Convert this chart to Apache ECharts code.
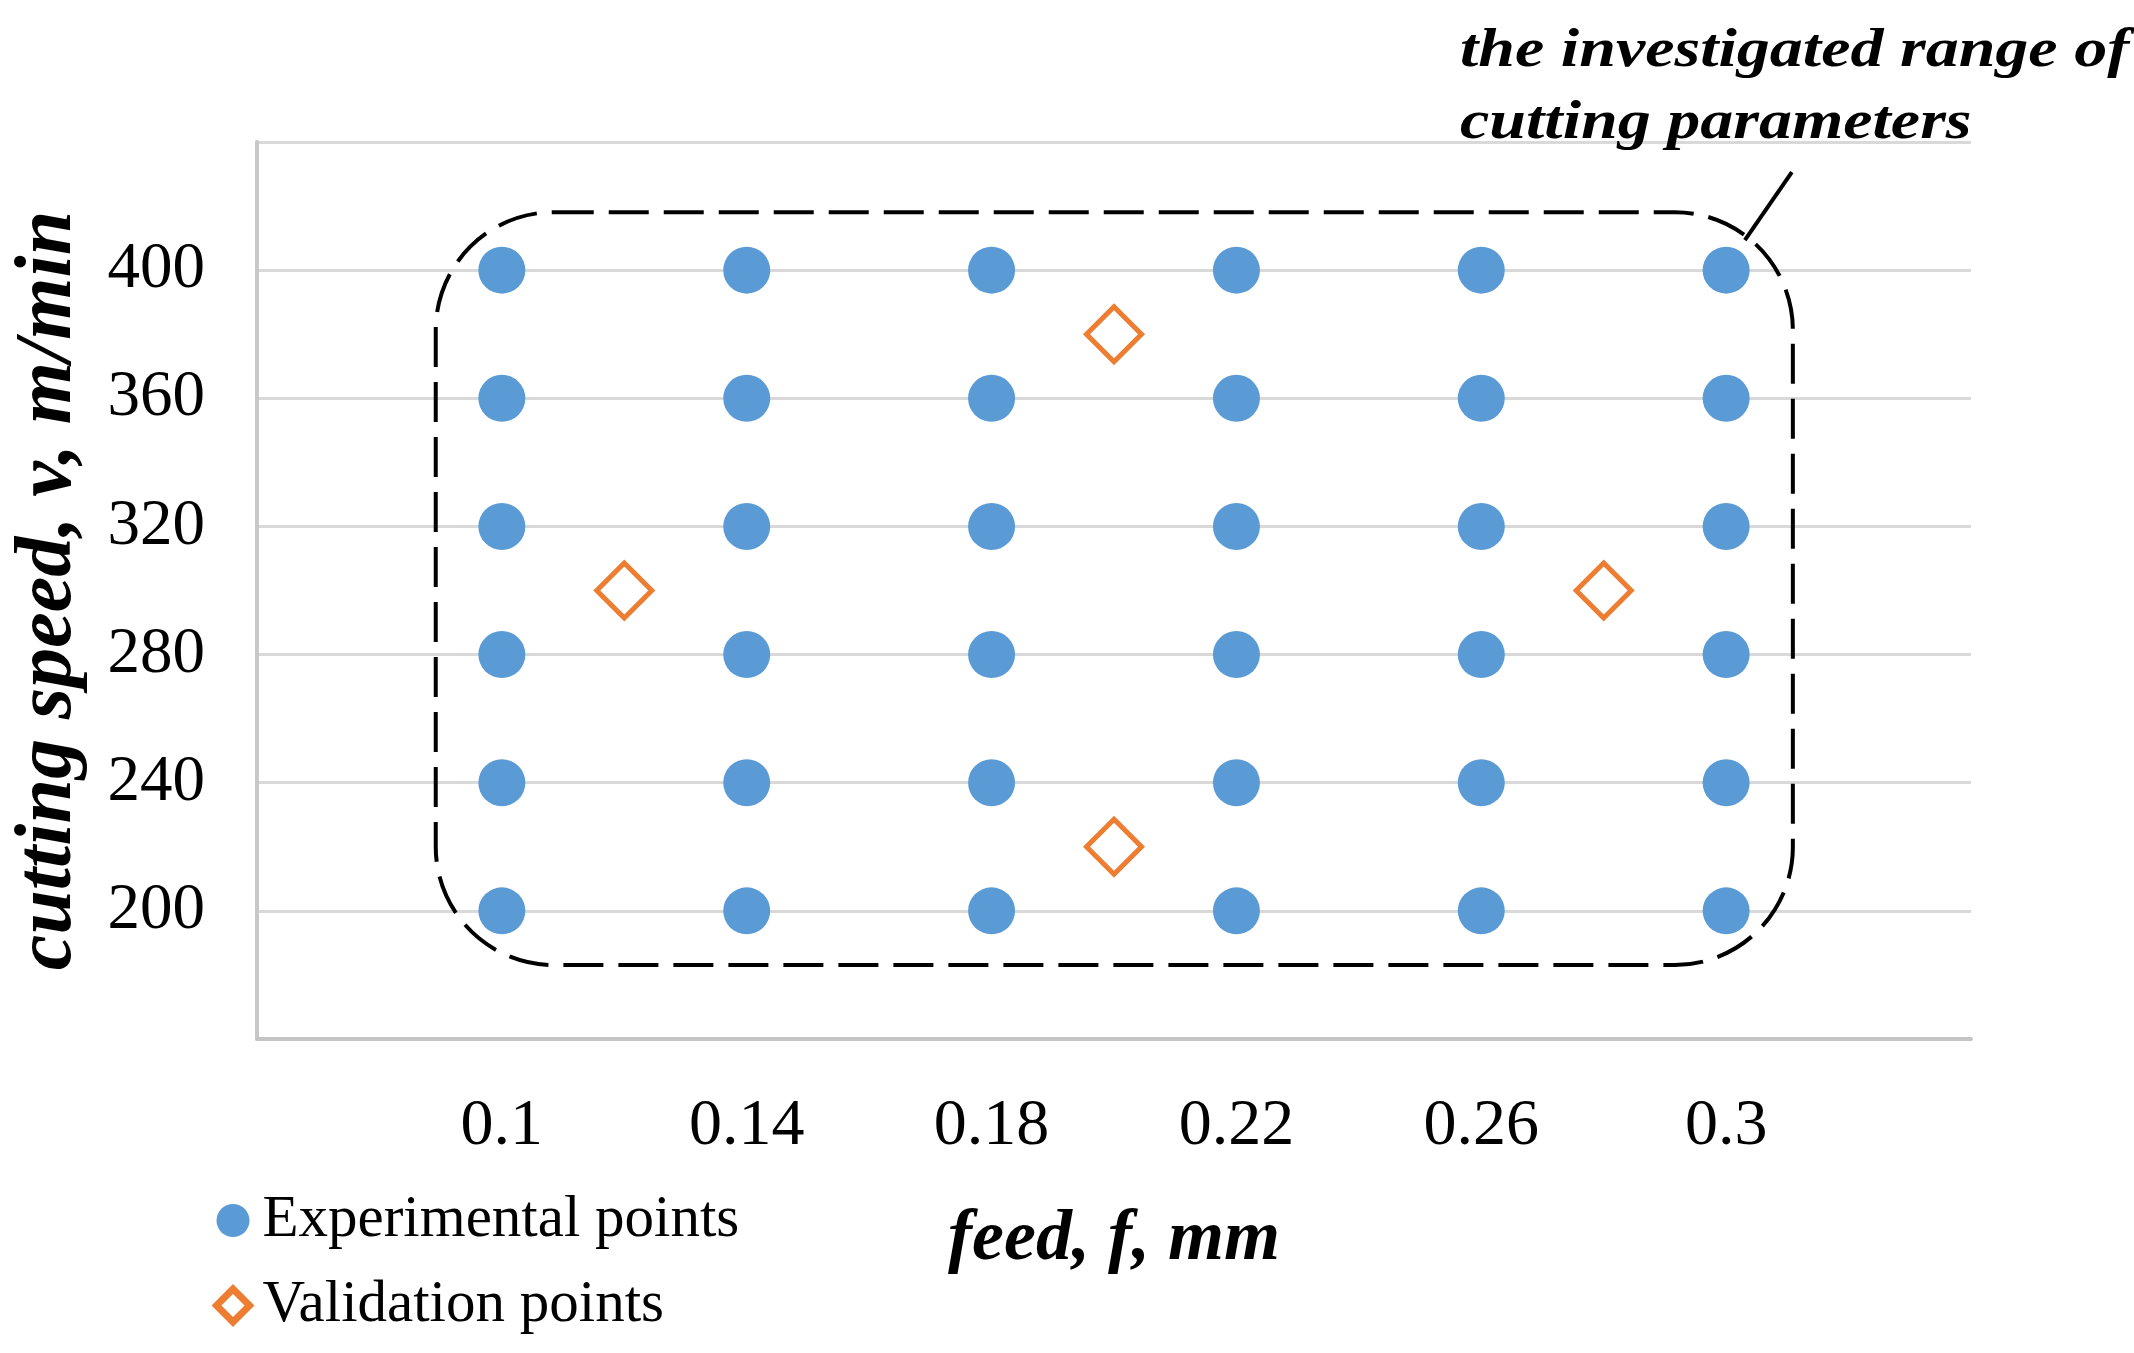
<!DOCTYPE html>
<html><head><meta charset="utf-8">
<script src="https://cdn.jsdelivr.net/npm/echarts@6/dist/echarts.min.js"></script>
<style>html,body{margin:0;padding:0;background:#fff}#c{width:2134px;height:1353px}</style>
</head><body><div id="c"></div>
<script>
// ---- data ----
const feedLevels = [0.1, 0.14, 0.18, 0.22, 0.26, 0.3];
const speedLevels = [200, 240, 280, 320, 360, 400];
const validationFeed = [0.12, 0.2, 0.2, 0.28];
const validationSpeed = [300, 380, 220, 300];
const feedTickLabels = ['0.1', '0.14', '0.18', '0.22', '0.26', '0.3'];
const speedTickLabels = ['200', '240', '280', '320', '360', '400'];
const seriesNames = ['Experimental points', 'Validation points'];
const axisNames = ['feed, f, mm', 'cutting speed, v, m/min'];
const annotationLines = ['the investigated range of', 'cutting parameters'];
// investigated range box (data units)
const rangeFeed = [0.0892, 0.3109];
const rangeSpeed = [183.1, 418.1];

const experimental = [];
for (const v of speedLevels) for (const f of feedLevels) experimental.push([f, v]);
const validation = validationFeed.map((f, i) => [f, validationSpeed[i]]);

const FONT = '"Liberation Serif", "Times New Roman", serif';
const BLUE = '#5B9BD5', ORANGE = '#ED7D31';

const chart = echarts.init(document.getElementById('c'));
chart.setOption({
  animation: false,
  backgroundColor: '#fff',
  grid: { left: 257, right: 163, top: 142, bottom: 314, containLabel: false },
  legend: {
    orient: 'vertical', left: 208, top: 1186,
    itemWidth: 33, itemHeight: 33, itemGap: 26,
    textStyle: { fontFamily: FONT, fontSize: 59, color: '#000', lineHeight: 58, padding: [0, 0, 0, 8] },
    data: [
      { name: seriesNames[0], icon: 'circle' },
      { name: seriesNames[1], icon: 'diamond', itemStyle: { color: '#fff', borderColor: ORANGE, borderWidth: 7 } }
    ]
  },
  xAxis: {
    type: 'value', min: 0.06, max: 0.34, interval: 0.04,
    name: axisNames[0], nameLocation: 'middle', nameGap: 165,
    nameTextStyle: { fontFamily: FONT, fontStyle: 'italic', fontWeight: 'bold', fontSize: 72, color: '#000' },
    axisLine: { show: true, lineStyle: { color: '#c4c4c4', width: 4 } },
    axisTick: { show: false },
    splitLine: { show: false },
    axisLabel: {
      margin: 55, fontFamily: FONT, fontSize: 66, color: '#000',
      formatter: v => { const s = String(parseFloat(v.toFixed(2))); return feedTickLabels.includes(s) ? s : ''; }
    }
  },
  yAxis: {
    type: 'value', min: 160, max: 440, interval: 40,
    name: axisNames[1], nameLocation: 'middle', nameGap: 168,
    nameTextStyle: { fontFamily: FONT, fontStyle: 'italic', fontWeight: 'bold', fontSize: 80, color: '#000' },
    axisLine: { show: true, lineStyle: { color: '#c8c8c8', width: 4 } },
    axisTick: { show: false },
    splitLine: { show: true, lineStyle: { color: '#d9d9d9', width: 3 } },
    axisLabel: {
      margin: 52, fontFamily: FONT, fontSize: 65, color: '#000',
      formatter: v => { const s = String(Math.round(v)); return speedTickLabels.includes(s) ? s : ''; }
    }
  },
  series: [
    {
      name: seriesNames[0], type: 'scatter', symbol: 'circle', symbolSize: 47,
      itemStyle: { color: BLUE, opacity: 1 }, data: experimental, z: 3
    },
    {
      name: seriesNames[1], type: 'scatter', symbol: 'diamond', symbolSize: 55,
      itemStyle: { color: '#fff', borderColor: ORANGE, borderWidth: 5, opacity: 1 }, data: validation, z: 4
    }
  ]
});

// annotation graphics positioned from the grid's own scales
const tl = chart.convertToPixel({ gridIndex: 0 }, [rangeFeed[0], rangeSpeed[1]]);
const br = chart.convertToPixel({ gridIndex: 0 }, [rangeFeed[1], rangeSpeed[0]]);
chart.setOption({
  graphic: { elements: [
    {
      type: 'rect', z: 1, silent: true,
      shape: { x: tl[0], y: tl[1], width: br[0] - tl[0], height: br[1] - tl[1], r: 118 },
      style: { fill: 'none', stroke: '#000', lineWidth: 4, lineDash: [40, 15] }
    },
    {
      type: 'line', z: 5, silent: true,
      shape: { x1: br[0] - 1, y1: tl[1] - 40, x2: br[0] - 48, y2: tl[1] + 28 },
      style: { stroke: '#000', lineWidth: 4 }
    },
    {
      type: 'text', x: 1460, y: 52, scaleX: 1.2, silent: true,
      style: { text: annotationLines[0], fontFamily: FONT, fontStyle: 'italic', fontWeight: 'bold', fontSize: 55, fill: '#000', textAlign: 'left', textVerticalAlign: 'middle' }
    },
    {
      type: 'text', x: 1460, y: 124, scaleX: 1.2, silent: true,
      style: { text: annotationLines[1], fontFamily: FONT, fontStyle: 'italic', fontWeight: 'bold', fontSize: 55, fill: '#000', textAlign: 'left', textVerticalAlign: 'middle' }
    }
  ] }
});
</script></body></html>
